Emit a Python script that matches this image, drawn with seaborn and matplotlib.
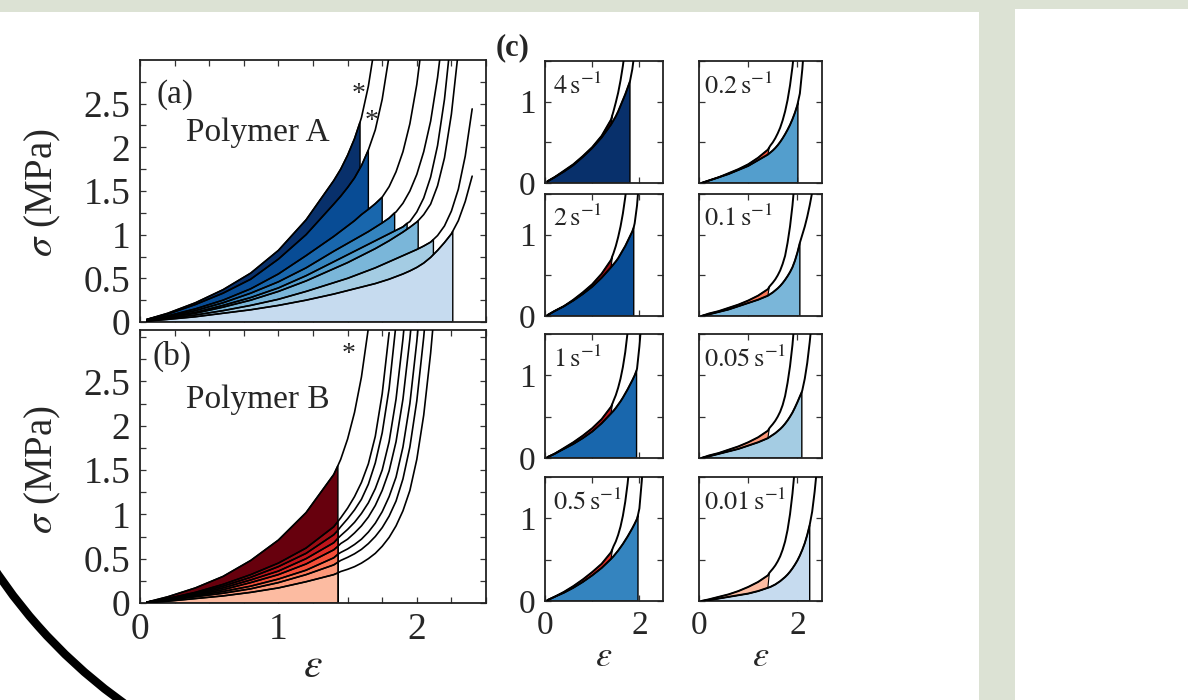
import numpy as np
import matplotlib
matplotlib.use('Agg')
import matplotlib.pyplot as plt
import seaborn as sns
from matplotlib.patches import Rectangle, Arc

nan = np.nan

RATES = ['4', '2', '1', '0.5', '0.2', '0.1', '0.05', '0.01']
STRAIN = [0.05, 0.2, 0.4, 0.6, 0.8, 1.0, 1.2, 1.4, 1.45, 1.5, 1.55, 1.6, 1.65, 1.7,
          1.75, 1.8, 1.85, 1.9, 1.95, 2.0, 2.05, 2.1, 2.15, 2.2, 2.25, 2.3, 2.35, 2.4]

# (a) polymer A, stress (MPa) on the STRAIN grid, one row per rate
STRESS_A = [
    [0.03, 0.10, 0.22, 0.37, 0.56, 0.82, 1.17, 1.62, 1.75, 1.91, 2.10, 2.34, 2.70, 3.20] + [nan] * 14,
    [0.03, 0.09, 0.20, 0.33, 0.49, 0.72, 1.00, 1.35, 1.44, 1.54, 1.65, 1.79, 1.97, 2.20, 2.55, 3.05] + [nan] * 12,
    [0.02, 0.07, 0.15, 0.25, 0.38, 0.55, 0.76, 0.98, 1.04, 1.10, 1.16, 1.23, 1.29, 1.355, 1.43, 1.55,
     1.72, 1.95, 2.27, 2.72, 3.35] + [nan] * 7,
    [0.02, 0.06, 0.13, 0.22, 0.33, 0.46, 0.62, 0.81, 0.855, 0.90, 0.945, 0.99, 1.035, 1.085, 1.135, 1.19,
     1.26, 1.36, 1.50, 1.69, 1.95, 2.30, 2.80, 3.45] + [nan] * 4,
    [0.02, 0.05, 0.11, 0.19, 0.28, 0.39, 0.53, 0.69, 0.73, 0.77, 0.81, 0.85, 0.89, 0.93, 0.97, 1.01,
     1.05, 1.09, 1.15, 1.26, 1.42, 1.66, 2.02, 2.55, 3.30] + [nan] * 3,
    [0.01, 0.05, 0.10, 0.17, 0.25, 0.35, 0.47, 0.61, 0.645, 0.68, 0.72, 0.76, 0.80, 0.84, 0.885, 0.93,
     0.98, 1.03, 1.085, 1.145, 1.23, 1.35, 1.56, 1.88, 2.38, 3.10] + [nan] * 2,
    [0.01, 0.04, 0.08, 0.13, 0.19, 0.26, 0.35, 0.45, 0.475, 0.50, 0.53, 0.56, 0.59, 0.62, 0.655, 0.69,
     0.725, 0.76, 0.795, 0.83, 0.87, 0.915, 0.99, 1.10, 1.27, 1.52, 1.90, 2.44],
    [0.01, 0.03, 0.06, 0.10, 0.14, 0.19, 0.25, 0.32, 0.34, 0.36, 0.38, 0.40, 0.42, 0.44, 0.465, 0.49,
     0.52, 0.55, 0.585, 0.625, 0.675, 0.74, 0.82, 0.91, 1.01, 1.16, 1.38, 1.67],
]
FAIL_STRAIN_A = [1.59, 1.65, 1.75, 1.84, 1.93, 2.01, 2.12, 2.26]
FAIL_STRESS_A = [2.29, 1.97, 1.43, 1.25, 1.13, 1.16, 0.945, 1.04]

# (b) polymer B
STRESS_B = [
    [0.01, 0.07, 0.17, 0.30, 0.48, 0.71, 1.02, 1.45, 1.62, 1.85, 2.15, 2.55, 3.10] + [nan] * 15,
    [0.01, 0.05, 0.12, 0.21, 0.32, 0.45, 0.62, 0.86, 0.96, 1.07, 1.20, 1.36, 1.57, 1.88, 2.36, 3.05] + [nan] * 12,
    [0.01, 0.05, 0.11, 0.19, 0.29, 0.41, 0.56, 0.77, 0.86, 0.95, 1.05, 1.17, 1.34, 1.58, 1.92, 2.42,
     3.15] + [nan] * 11,
    [0.01, 0.04, 0.10, 0.17, 0.26, 0.36, 0.50, 0.68, 0.76, 0.83, 0.91, 1.01, 1.13, 1.29, 1.50, 1.82,
     2.30, 2.98, 3.80] + [nan] * 9,
    [0.01, 0.04, 0.09, 0.15, 0.23, 0.32, 0.44, 0.60, 0.67, 0.72, 0.79, 0.87, 0.97, 1.10, 1.27, 1.49,
     1.82, 2.30, 2.98, 3.80] + [nan] * 8,
    [0.01, 0.03, 0.08, 0.13, 0.19, 0.27, 0.37, 0.51, 0.57, 0.61, 0.66, 0.72, 0.80, 0.90, 1.03, 1.20,
     1.42, 1.76, 2.25, 2.95, 3.80] + [nan] * 7,
    [0.01, 0.03, 0.07, 0.11, 0.16, 0.23, 0.32, 0.43, 0.48, 0.515, 0.555, 0.605, 0.67, 0.75, 0.85, 0.98,
     1.15, 1.40, 1.76, 2.28, 3.00, 3.90] + [nan] * 6,
    [0.00, 0.02, 0.05, 0.08, 0.12, 0.17, 0.24, 0.32, 0.355, 0.38, 0.41, 0.45, 0.50, 0.56, 0.64, 0.74,
     0.87, 1.04, 1.27, 1.62, 2.12, 2.82, 3.70] + [nan] * 5,
]
FAIL_STRAIN_B = [1.43, 1.43, 1.43, 1.43, 1.43, 1.43, 1.43, 1.43]
FAIL_STRESS_B = [1.55, 0.92, 0.82, 0.73, 0.64, 0.55, 0.46, 0.34]

# (c) per-rate comparison, A (blue) and B (red)
STRESS_A_C = [
    [0.02, 0.07, 0.14, 0.22, 0.32, 0.43, 0.56, 0.72, 0.77, 0.82, 0.88, 0.95, 1.02, 1.09, 1.17, 1.25,
     1.40, 1.62] + [nan] * 10,
    [0.01, 0.06, 0.12, 0.19, 0.27, 0.36, 0.47, 0.60, 0.635, 0.67, 0.71, 0.76, 0.81, 0.86, 0.92, 0.98,
     1.04, 1.14, 1.36, 1.72] + [nan] * 8,
    [0.01, 0.05, 0.11, 0.17, 0.24, 0.32, 0.42, 0.54, 0.57, 0.605, 0.645, 0.685, 0.73, 0.78, 0.83, 0.885,
     0.94, 1.00, 1.08, 1.35, 1.70] + [nan] * 7,
    [0.01, 0.05, 0.10, 0.16, 0.23, 0.31, 0.40, 0.51, 0.54, 0.575, 0.61, 0.65, 0.69, 0.735, 0.78, 0.83,
     0.88, 0.935, 0.995, 1.12, 1.45, 1.85] + [nan] * 6,
    [0.00, 0.03, 0.07, 0.11, 0.16, 0.21, 0.28, 0.35, 0.375, 0.40, 0.43, 0.465, 0.505, 0.55, 0.60, 0.655,
     0.715, 0.785, 0.865, 0.96, 1.10, 1.40, 1.80] + [nan] * 5,
    [0.00, 0.02, 0.05, 0.08, 0.12, 0.16, 0.20, 0.25, 0.27, 0.29, 0.315, 0.34, 0.37, 0.405, 0.445, 0.49,
     0.54, 0.60, 0.68, 0.78, 0.90, 1.00, 1.10, 1.22, 1.36, 1.52] + [nan] * 2,
    [0.00, 0.02, 0.05, 0.08, 0.11, 0.15, 0.19, 0.24, 0.26, 0.28, 0.30, 0.325, 0.35, 0.38, 0.415, 0.455,
     0.50, 0.55, 0.61, 0.675, 0.745, 0.82, 0.96, 1.15, 1.40, 1.70] + [nan] * 2,
    [0.00, 0.01, 0.03, 0.05, 0.07, 0.09, 0.12, 0.16, 0.17, 0.185, 0.20, 0.22, 0.24, 0.265, 0.29, 0.32,
     0.355, 0.395, 0.44, 0.49, 0.55, 0.62, 0.70, 0.80, 0.92, 1.08, 1.32, 1.62],
]
FAIL_STRAIN_A_C = [1.80, 1.88, 1.94, 1.97, 2.01, 2.05, 2.09, 2.25]
FAIL_STRESS_A_C = [1.25, 1.09, 1.06, 1.04, 0.99, 0.90, 0.80, 0.92]

STRESS_B_C = [
    [0.02, 0.07, 0.15, 0.23, 0.33, 0.44, 0.58, 0.78, 0.88, 0.99, 1.11, 1.26, 1.44, 1.66] + [nan] * 14,
    [0.01, 0.06, 0.12, 0.20, 0.29, 0.39, 0.52, 0.69, 0.77, 0.86, 0.97, 1.10, 1.26, 1.46, 1.70] + [nan] * 13,
    [0.01, 0.05, 0.12, 0.19, 0.27, 0.36, 0.47, 0.62, 0.69, 0.76, 0.85, 0.96, 1.10, 1.28, 1.52, 1.82] + [nan] * 12,
    [0.01, 0.05, 0.11, 0.18, 0.26, 0.35, 0.45, 0.59, 0.66, 0.72, 0.80, 0.90, 1.03, 1.20, 1.42, 1.70] + [nan] * 12,
    [0.00, 0.03, 0.07, 0.12, 0.17, 0.23, 0.31, 0.41, 0.46, 0.50, 0.55, 0.61, 0.68, 0.77, 0.88, 1.02,
     1.20, 1.43, 1.72] + [nan] * 9,
    [0.00, 0.03, 0.06, 0.10, 0.14, 0.19, 0.25, 0.33, 0.375, 0.41, 0.45, 0.50, 0.56, 0.64, 0.74, 0.90,
     1.10, 1.36, 1.70] + [nan] * 9,
    [0.00, 0.03, 0.06, 0.10, 0.14, 0.19, 0.25, 0.33, 0.375, 0.41, 0.45, 0.50, 0.56, 0.64, 0.75, 0.91,
     1.11, 1.37, 1.72] + [nan] * 9,
    [0.00, 0.02, 0.05, 0.08, 0.12, 0.17, 0.23, 0.31, 0.355, 0.39, 0.43, 0.48, 0.54, 0.62, 0.72, 0.86,
     1.05, 1.30, 1.62] + [nan] * 9,
]
FAIL_STRAIN_B_C = [1.43, 1.43, 1.43, 1.43, 1.43, 1.43, 1.43, 1.43]
FAIL_STRESS_B_C = [0.84, 0.74, 0.66, 0.63, 0.44, 0.36, 0.36, 0.34]

Y_TICKS = [0, 0.5, 1, 1.5, 2, 2.5]
Y_TICK_LABELS = ['0', '0.5', '1', '1.5', '2', '2.5']
X_TICKS = [0, 1, 2]

sns.set_theme(style='ticks')
plt.rcParams['font.family'] = ['Liberation Serif', 'DejaVu Serif']
plt.rcParams['mathtext.fontset'] = 'stix'

blues = [plt.cm.Blues(v) for v in np.linspace(1.0, 0.25, 8)]
reds = [plt.cm.Reds(v) for v in np.linspace(1.0, 0.25, 8)]
PX_W, PX_H = 1188, 700


def curve(stress, ef, sf):
    x = np.asarray(STRAIN)
    y = np.asarray(stress, dtype=float)
    ok = ~np.isnan(y)
    x = np.append(x[ok], ef)
    y = np.append(y[ok], sf)
    order = np.argsort(x, kind='stable')
    return x[order], y[order]


def fill_under(ax, x, y, ef, color):
    m = x <= ef
    px = np.concatenate([[x[m][0]], x[m], [ef]])
    py = np.concatenate([[0], y[m], [0]])
    ax.fill(px, py, facecolor=color, edgecolor='black', lw=1.0, zorder=2)


def draw_line(ax, x, y, lw=1.2):
    sns.lineplot(x=x, y=y, ax=ax, color='black', lw=lw, estimator=None,
                 sort=False, zorder=3)


def style_axes(ax, ylim, labelsize):
    ax.set_xlim(0, 2.5)
    ax.set_ylim(0, ylim)
    ax.tick_params(which='both', direction='in', top=True, right=True, length=4,
                   width=0.9, color='#333333', labelsize=labelsize, pad=7)
    for s in ax.spines.values():
        s.set_linewidth(1.3)
        s.set_color('#222222')
    ax.set_xlabel('')
    ax.set_ylabel('')


def px_axes(fig, x0, y0, x1, y1):
    return fig.add_axes([x0 / PX_W, 1 - y1 / PX_H, (x1 - x0) / PX_W, (y1 - y0) / PX_H])


fig = plt.figure(figsize=(11.88, 7.0), dpi=100)
fig.patch.set_facecolor('white')

# slide background pieces
bg = '#dce2d4'
fig.add_artist(Rectangle((0, 1 - 12 / PX_H), 1015 / PX_W, 12 / PX_H, transform=fig.transFigure,
                         facecolor=bg, edgecolor='none', zorder=0))
fig.add_artist(Rectangle((1015 / PX_W, 1 - 9 / PX_H), 1 - 1015 / PX_W, 9 / PX_H,
                         transform=fig.transFigure, facecolor=bg, edgecolor='none', zorder=0))
fig.add_artist(Rectangle((979 / PX_W, 0), 36 / PX_W, 1, transform=fig.transFigure,
                         facecolor=bg, edgecolor='none', zorder=0))
fig.add_artist(Arc((4.2, 4.12), 10.2, 10.2, theta1=198, theta2=245,
                   transform=fig.dpi_scale_trans, color='black', lw=6, zorder=0))

# (a) polymer A
ax_a = px_axes(fig, 140, 60, 486, 322)
curves_a = [curve(STRESS_A[i], FAIL_STRAIN_A[i], FAIL_STRESS_A[i]) for i in range(8)]
for i, (x, y) in enumerate(curves_a):
    fill_under(ax_a, x, y, FAIL_STRAIN_A[i], blues[i])
for x, y in curves_a:
    draw_line(ax_a, x, y)
style_axes(ax_a, 3.0, 27)
ax_a.set_yticks(Y_TICKS, labels=Y_TICK_LABELS)
ax_a.set_yticks(np.arange(0, 3.0, 0.25), minor=True)
ax_a.set_xticks(X_TICKS, labels=['', '', ''])
ax_a.set_xticks(np.arange(0, 2.51, 0.25), minor=True)
ax_a.text(0.12, 2.6, '(a)', fontsize=24, va='center')
ax_a.text(0.33, 2.17, 'Polymer A', fontsize=24, va='center')
ax_a.text(1.58, 2.6, '*', fontsize=20, ha='center', va='center')
ax_a.text(1.67, 2.3, '*', fontsize=20, ha='center', va='center')

# (b) polymer B
ax_b = px_axes(fig, 140, 330, 486, 603)
curves_b = [curve(STRESS_B[i], FAIL_STRAIN_B[i], FAIL_STRESS_B[i]) for i in range(8)]
for i, (x, y) in enumerate(curves_b):
    fill_under(ax_b, x, y, FAIL_STRAIN_B[i], reds[i])
for x, y in curves_b:
    draw_line(ax_b, x, y)
style_axes(ax_b, 3.08, 27)
ax_b.set_yticks(Y_TICKS, labels=Y_TICK_LABELS)
ax_b.set_yticks(np.arange(0, 3.08, 0.25), minor=True)
ax_b.set_xticks(X_TICKS, labels=['0', '1', '2'])
ax_b.set_xticks(np.arange(0, 2.51, 0.25), minor=True)
ax_b.text(0.09, 2.78, '(b)', fontsize=24, va='center')
ax_b.text(0.33, 2.29, 'Polymer B', fontsize=24, va='center')
ax_b.text(1.51, 2.8, '*', fontsize=20, ha='center', va='center')

for yc in (193, 470):
    fig.text(43 / PX_W, 1 - yc / PX_H, r'$\sigma$ (MPa)', rotation=90, fontsize=28,
             ha='center', va='center')
fig.text(313 / PX_W, 1 - 667 / PX_H, r'$\varepsilon$', fontsize=30, ha='center', va='center')

# (c) small panels
cols = [(545, 663), (699, 822)]
rows = [(61, 183), (194, 316), (334, 458), (477, 601)]
for i in range(8):
    c, r = divmod(i, 4)
    ax = px_axes(fig, cols[c][0], rows[r][0], cols[c][1], rows[r][1])
    xa, ya = curve(STRESS_A_C[i], FAIL_STRAIN_A_C[i], FAIL_STRESS_A_C[i])
    xb, yb = curve(STRESS_B_C[i], FAIL_STRAIN_B_C[i], FAIL_STRESS_B_C[i])
    fill_under(ax, xa, ya, FAIL_STRAIN_A_C[i], blues[i])
    ef = FAIL_STRAIN_B_C[i]
    mb = xb <= ef
    ma = xa < ef
    px = np.concatenate([xb[mb], xa[ma][::-1]])
    py = np.concatenate([yb[mb], ya[ma][::-1]])
    ax.fill(px, py, facecolor=reds[i], edgecolor='black', lw=0.8, zorder=2)
    draw_line(ax, xa, ya, lw=1.4)
    draw_line(ax, xb, yb, lw=1.4)
    style_axes(ax, 1.5, 24)
    ax.set_xticks([0, 2], labels=['0', '2'] if r == 3 else ['', ''])
    ax.set_xticks([1], minor=True)
    ax.set_yticks([0, 1], labels=['0', '1'] if c == 0 else ['', ''])
    ax.set_yticks([0.5, 1.5], minor=True)
    ax.text(0.07 if c == 0 else 0.04, 0.80, r'$%s\,\mathrm{s}^{-1}$' % RATES[i],
            transform=ax.transAxes, fontsize=19, va='center', ha='left', zorder=1)
    if r == 3:
        fig.text((cols[c][0] + cols[c][1]) / 2 / PX_W, 1 - 658 / PX_H, r'$\varepsilon$',
                 fontsize=26, ha='center', va='center')

fig.text(513 / PX_W, 1 - 48 / PX_H, '(c)', fontsize=22, fontweight='bold',
         ha='center', va='center')

fig.savefig('out.png', dpi=100, facecolor='white')
